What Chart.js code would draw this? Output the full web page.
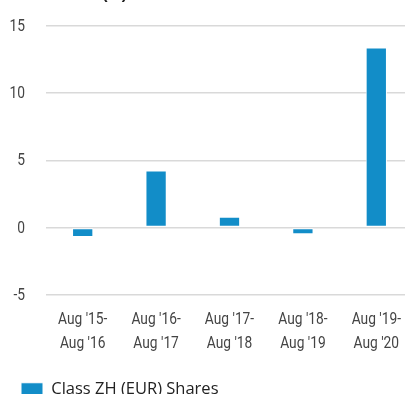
<!DOCTYPE html>
<html>
<head>
<meta charset="utf-8">
<script src="https://cdn.jsdelivr.net/npm/chart.js@4.4.1/dist/chart.umd.min.js"></script>
<style>
  html, body { margin: 0; padding: 0; background: #fff; overflow: hidden; }
  #wrap { position: absolute; left: 0; top: -18px; width: 413px; height: 426px; }
</style>
</head>
<body>
<div id="wrap"><canvas id="c"></canvas></div>
<script>
// Annual performance periods (August to August)
const periods = [
  ["Aug '15-", "Aug '16"],
  ["Aug '16-", "Aug '17"],
  ["Aug '17-", "Aug '18"],
  ["Aug '18-", "Aug '19"],
  ["Aug '19-", "Aug '20"]
];
const seriesName = "Class ZH (EUR) Shares";
const returnsPct = [-0.7, 4.25, 0.8, -0.5, 13.4];
const yTicks = [-5, 0, 5, 10, 15];

const TICK_COLOR = '#444';
const TICK_FONT = '16px Roboto, sans-serif';
const SQUEEZE = 0.86; // horizontal squeeze for the narrow axis lettering

// Draws axis lettering in a condensed style, positioned by the chart's own scales.
const narrowTicks = {
  id: 'narrowTicks',
  afterDraw(chart) {
    const { ctx, scales: { x, y } } = chart;
    ctx.save();
    ctx.fillStyle = TICK_COLOR;
    ctx.font = TICK_FONT;
    ctx.textBaseline = 'middle';

    ctx.textAlign = 'right';
    yTicks.forEach(v => {
      const py = y.getPixelForValue(v);
      ctx.save();
      ctx.translate(x.left - 21, py + 1);
      ctx.scale(SQUEEZE, 1);
      ctx.fillText(String(v), 0, 0);
      ctx.restore();
    });

    ctx.textAlign = 'center';
    periods.forEach((lines, i) => {
      const px = x.getPixelForValue(i);
      lines.forEach((t, j) => {
        ctx.save();
        ctx.translate(px, y.bottom + 25 + j * 24);
        ctx.scale(SQUEEZE, 1);
        ctx.fillText(t, 0, 0);
        ctx.restore();
      });
    });
    ctx.restore();
  }
};

new Chart(document.getElementById('c'), {
  type: 'bar',
  data: {
    labels: periods,
    datasets: [{
      label: seriesName,
      data: returnsPct,
      backgroundColor: '#128dc8',
      borderColor: '#ffffff',
      borderWidth: 1,
      borderSkipped: false,
      barPercentage: 0.29,
      categoryPercentage: 1
    }]
  },
  options: {
    responsive: true,
    maintainAspectRatio: false,
    animation: false,
    layout: { padding: { left: 0, right: 0, top: 0, bottom: 0 } },
    plugins: {
      title: {
        display: true,
        text: 'Performance (%)',
        align: 'start',
        color: '#222',
        font: { family: "'Liberation Sans', sans-serif", size: 16, weight: 'bold' },
        padding: { top: 3.4, bottom: 21.4 }
      },
      legend: {
        position: 'bottom',
        align: 'start',
        labels: {
          boxWidth: 22,
          boxHeight: 14,
          color: '#222',
          padding: 21,
          font: { family: "'Open Sans', sans-serif", size: 16.5 }
        }
      },
      tooltip: { enabled: false }
    },
    scales: {
      x: {
        afterFit: (s) => { s.height = 65.75; },
        grid: { display: false, drawTicks: false },
        border: { display: false },
        ticks: { color: 'rgba(0,0,0,0)', maxRotation: 0, autoSkip: false, font: { size: 10 } }
      },
      y: {
        min: -5,
        max: 15,
        afterFit: (s) => { s.width = 46; },
        afterBuildTicks: (s) => { s.ticks = yTicks.map(v => ({ value: v })); },
        grid: { color: '#d9d9d9', lineWidth: 1.5, drawTicks: false },
        border: { display: false },
        ticks: { color: 'rgba(0,0,0,0)', font: { size: 10 } }
      }
    }
  },
  plugins: [narrowTicks]
});
</script>
</body>
</html>
